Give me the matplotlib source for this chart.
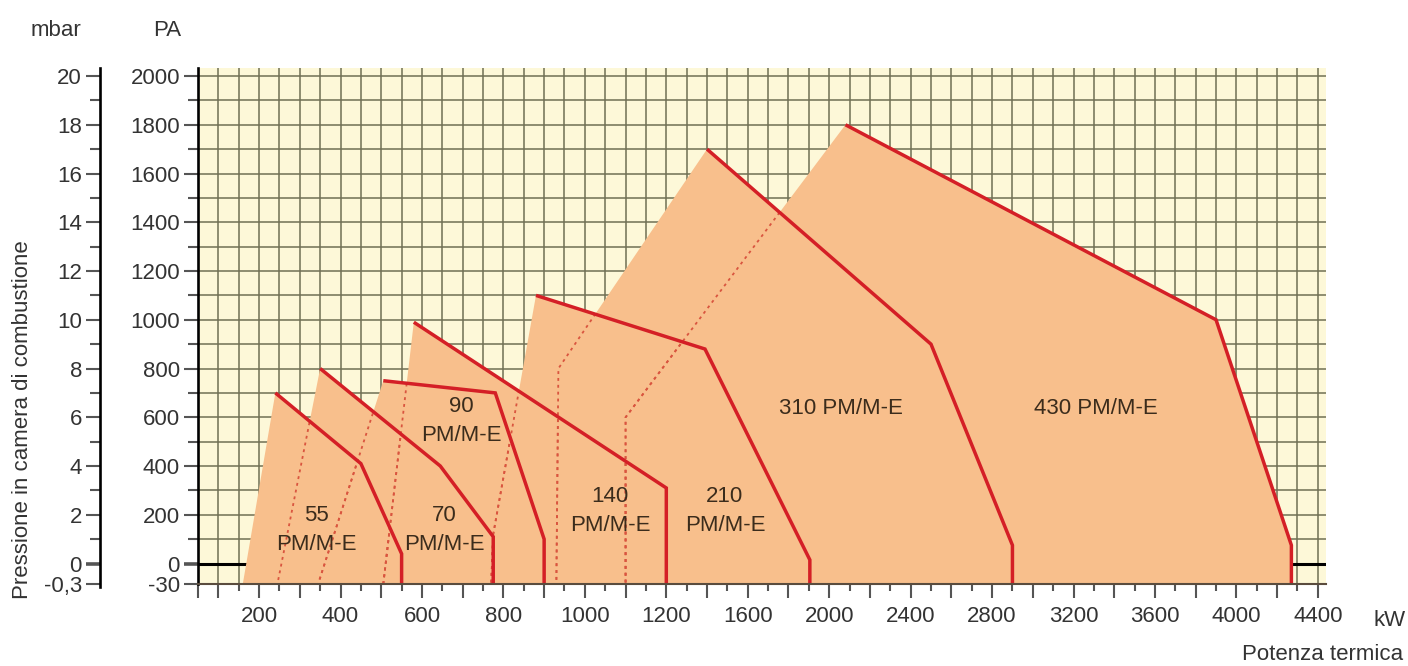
import numpy as np
import matplotlib
matplotlib.use("Agg")
import matplotlib.pyplot as plt
from matplotlib.patches import Polygon

# ---------------- data ----------------
models = ["55", "70", "90", "140", "210", "310", "430"]
label_texts = ["55\nPM/M-E", "70\nPM/M-E", "90\nPM/M-E", "140\nPM/M-E",
               "210\nPM/M-E", "310 PM/M-E", "430 PM/M-E"]

# red working curve (kW, Pa): from top-left corner down to the bottom
curve_55_x = [240, 450, 550, 550]
curve_55_y = [700, 410, 40, -30]
curve_70_x = [350, 645, 775, 775]
curve_70_y = [800, 400, 110, -30]
curve_90_x = [505, 780, 900, 900]
curve_90_y = [750, 700, 100, -30]
curve_140_x = [580, 1200, 1200]
curve_140_y = [990, 310, -30]
curve_210_x = [880, 1390, 1905, 1905]
curve_210_y = [1100, 880, 15, -30]
curve_310_x = [1400, 2500, 2900, 2900]
curve_310_y = [1700, 900, 75, -30]
curve_430_x = [2080, 3900, 4270, 4270]
curve_430_y = [1800, 1000, 75, -30]

# left (minimum output) edge (kW, Pa): from top-left corner down to the bottom
left_55_x = [240, 160]
left_55_y = [700, -30]
left_70_x = [350, 245]
left_70_y = [800, -30]
left_90_x = [505, 345]
left_90_y = [750, -30]
left_140_x = [580, 505]
left_140_y = [990, -30]
left_210_x = [880, 775, 770]
left_210_y = [1100, 120, -30]
left_310_x = [1400, 935, 930]
left_310_y = [1700, 800, -30]
left_430_x = [2080, 1100, 1100]
left_430_y = [1800, 600, -30]

# label anchors (kW, Pa)
label_x = [340, 655, 697, 1062, 1488, 2058, 3312]
label_y = [137, 137, 585, 215, 215, 636, 636]

# axis ticks
x_major = [50, 100, 200, 300, 400, 500, 600, 700, 800, 900, 1000, 1100, 1200,
           1400, 1600, 1800, 2000, 2200, 2400, 2600, 2800, 3000, 3200, 3400,
           3600, 3800, 4000, 4200, 4400]
x_labels = ["", "", "200", "", "400", "", "600", "", "800", "", "1000", "", "1200",
            "", "1600", "", "2000", "", "2400", "", "2800", "", "3200", "",
            "3600", "", "4000", "", "4400"]
x_minor = [150, 250, 350, 450, 550, 650, 750, 850, 950, 1050, 1150,
           1300, 1500, 1700, 1900, 2100, 2300, 2500, 2700, 2900, 3100, 3300,
           3500, 3700, 3900, 4100, 4300]
pa_ticks = [-30, 0, 200, 400, 600, 800, 1000, 1200, 1400, 1600, 1800, 2000]
pa_labels = ["-30", "0", "200", "400", "600", "800", "1000", "1200", "1400",
             "1600", "1800", "2000"]
pa_minor = [100, 300, 500, 700, 900, 1100, 1300, 1500, 1700, 1900]
mbar_labels = ["-0,3", "0", "2", "4", "6", "8", "10", "12", "14", "16", "18", "20"]

curves_x = [curve_55_x, curve_70_x, curve_90_x, curve_140_x, curve_210_x, curve_310_x, curve_430_x]
curves_y = [curve_55_y, curve_70_y, curve_90_y, curve_140_y, curve_210_y, curve_310_y, curve_430_y]
lefts_x = [left_55_x, left_70_x, left_90_x, left_140_x, left_210_x, left_310_x, left_430_x]
lefts_y = [left_55_y, left_70_y, left_90_y, left_140_y, left_210_y, left_310_y, left_430_y]

# ---------------- style ----------------
plt.rcParams["font.family"] = ["Liberation Sans", "DejaVu Sans"]
FS = 16
TXT = "#333333"
FILL = "#f8bf8c"
RED = "#d41f26"
GRID = "#706f54"
BG = "#fdf8d8"


# piecewise scales (x: 200 kW/step up to 1200, then 400 kW/step; y: stretched below 0)
def fx(v):
    v = np.asarray(v, dtype=float)
    return np.where(v <= 1200, v, 1200 + (v - 1200) / 2.0)


def fxi(t):
    t = np.asarray(t, dtype=float)
    return np.where(t <= 1200, t, 1200 + (t - 1200) * 2.0)


def fy(v):
    v = np.asarray(v, dtype=float)
    return np.where(v >= 0, v, v * 2.8)


def fyi(u):
    u = np.asarray(u, dtype=float)
    return np.where(u >= 0, u, u / 2.8)


W, H = 1408, 666
fig = plt.figure(figsize=(W / 100, H / 100), dpi=100)
pos = [198 / W, 1 - 584 / H, 1128 / W, (584 - 67.5) / H]
ax = fig.add_axes(pos)
ax.set_xscale("function", functions=(fx, fxi))
ax.set_yscale("function", functions=(fy, fyi))
ax.set_xlim(50, 4440)
ax.set_ylim(-30, 2035)
ax.set_facecolor(BG)
ax.set_axisbelow(True)

# ticks & grid
ax.set_xticks(x_major)
ax.set_xticklabels(x_labels)
ax.set_xticks(x_minor, minor=True)
ax.set_yticks(pa_ticks)
ax.set_yticklabels(pa_labels)
ax.set_yticks(pa_minor, minor=True)
ax.tick_params(axis="x", which="major", length=10, width=1.5, color="#555555",
               pad=6, labelsize=FS, labelcolor=TXT)
ax.tick_params(axis="x", which="minor", length=5, width=1.5, color="#555555")
ax.tick_params(axis="y", which="major", length=10, width=1.5, color="#555555",
               pad=3, labelsize=FS, labelcolor=TXT)
ax.tick_params(axis="y", which="minor", length=7, width=1.5, color="#555555")
ax.grid(True, which="both", color=GRID, linewidth=1.1)
for s in ["top", "right"]:
    ax.spines[s].set_visible(False)
ax.spines["left"].set_color("black")
ax.spines["left"].set_linewidth(1.9)
ax.spines["left"].set_zorder(6)
ax.spines["bottom"].set_color("#5a4c3e")
ax.spines["bottom"].set_linewidth(1.5)
ax.spines["bottom"].set_zorder(6)
zt = ax.yaxis.get_major_ticks()[1]
zt.tick1line.set_markeredgewidth(2.6)
zt.tick1line.set_color("black")

# zero line (under the fields)
ax.axhline(0, color="black", linewidth=2.2, zorder=1.5)

# fields
polys = []
for cx, cy, lx, ly in zip(curves_x, curves_y, lefts_x, lefts_y):
    verts = list(zip(lx[::-1], ly[::-1])) + list(zip(cx[1:], cy[1:]))
    p = Polygon(verts, closed=True, facecolor=FILL, edgecolor="none", zorder=2)
    ax.add_patch(p)
    polys.append(p)

# dotted continuation of each left edge inside smaller fields
for i in range(1, len(models)):
    for j in range(i):
        ln, = ax.plot(lefts_x[i], lefts_y[i], color="#d9553f", linewidth=1.3,
                      linestyle=(0, (1.6, 2.2)), zorder=3)
        ln.set_clip_path(polys[j])

# red curves
for cx, cy in zip(curves_x, curves_y):
    ax.plot(cx, cy, color=RED, linewidth=2.5, solid_joinstyle="miter",
            solid_capstyle="butt", zorder=4)

# labels
for t, lx, ly in zip(label_texts, label_x, label_y):
    ax.text(lx, ly, t, ha="center", va="center", fontsize=FS, color="#3b2c1c",
            linespacing=1.5, zorder=5)

# mbar axis
ax2 = fig.add_axes(pos)
ax2.patch.set_visible(False)
ax2.set_yscale("function", functions=(fy, fyi))
ax2.set_ylim(-30, 2035)
ax2.set_xticks([])
for s in ["top", "right", "bottom"]:
    ax2.spines[s].set_visible(False)
ax2.spines["left"].set_position(("axes", -98 / 1128))
ax2.spines["left"].set_color("black")
ax2.spines["left"].set_linewidth(1.9)
ax2.spines["left"].set_bounds(-34.5, 2035)
ax2.set_yticks(pa_ticks)
ax2.set_yticklabels(mbar_labels)
ax2.set_yticks(pa_minor, minor=True)
ax2.tick_params(axis="y", which="major", length=10, width=1.5, color="#555555",
                pad=3, labelsize=FS, labelcolor=TXT)
ax2.tick_params(axis="y", which="minor", length=7, width=1.5, color="#555555")
zt2 = ax2.yaxis.get_major_ticks()[1]
zt2.tick1line.set_markeredgewidth(2.6)
zt2.tick1line.set_color("black")

# figure texts
fig.text(56 / W, 1 - 30 / H, "mbar", ha="center", va="center", fontsize=FS, color=TXT)
fig.text(167 / W, 1 - 30 / H, "PA", ha="center", va="center", fontsize=FS, color=TXT)
fig.text(1390 / W, 1 - 620 / H, "kW", ha="center", va="center", fontsize=FS, color=TXT)
fig.text(1403 / W, 1 - 655 / H, "Potenza termica", ha="right", va="center",
         fontsize=FS, color=TXT)
fig.text(23 / W, 1 - 420 / H, "Pressione in camera di combustione", rotation=90,
         ha="center", va="center", fontsize=FS, color=TXT)

fig.savefig("out.png", dpi=100, facecolor="white")
